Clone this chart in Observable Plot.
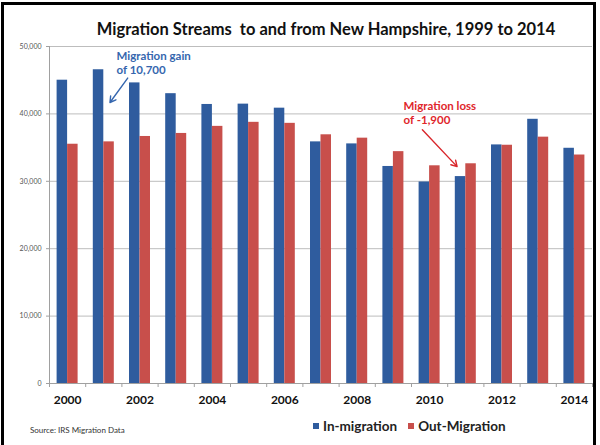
<!DOCTYPE html>
<html><head><meta charset="utf-8">
<script src="https://cdn.jsdelivr.net/npm/d3@7"></script>
<script src="https://cdn.jsdelivr.net/npm/@observablehq/plot@0.6"></script>
<style>
body{margin:0;background:#fff;}
#wrap{position:relative;width:600px;height:445px;overflow:hidden;font-family:Lato,"Open Sans",sans-serif;background:#fff;}
#frame{position:absolute;left:1px;top:2px;width:595px;height:470px;border:3px solid #000;box-sizing:border-box;pointer-events:none;}
#title{height:40px;box-sizing:border-box;padding-top:20px;line-height:18px;font-size:16.5px;font-weight:bold;color:#111;text-align:center;padding-left:52px;}
#chart svg{display:block;}
#footer{position:relative;height:35px;}
#legend{position:absolute;left:313px;top:8px;font-size:13.5px;font-weight:bold;color:#222;display:flex;align-items:center;line-height:16px;}
#legend .sw{display:inline-block;width:6px;height:6px;margin-right:4px;}
#legend .it{display:flex;align-items:center;margin-right:11px;}
#source{position:absolute;left:30px;top:14px;font-size:8px;color:#333;line-height:12px;}
</style></head>
<body>
<div id="wrap">
  <div id="title">Migration Streams&nbsp; to and from New Hampshire, 1999 to 2014</div>
  <div id="chart"></div>
  <div id="footer">
    <div id="source">Source: IRS Migration Data</div>
    <div id="legend"></div>
  </div>
  <div id="frame"></div>
</div>
<script>
const years = [2000,2001,2002,2003,2004,2005,2006,2007,2008,2009,2010,2011,2012,2013,2014];
const inMigration  = [45000,46550,44600,43000,41400,41450,40850,35850,35550,32200,29900,30700,35400,39200,34900];
const outMigration = [35500,35850,36650,37100,38150,38750,38600,36900,36400,34400,32300,32600,35350,36550,33900];
const seriesNames = ["In-migration","Out-Migration"];
const seriesColors = ["#2f5c9e","#c84f4b"];
const yTicks = [0,10000,20000,30000,40000,50000];
const xLabelYears = [2000,2002,2004,2006,2008,2010,2012,2014];
const noteGain = {text:"Migration gain\nof 10,700", x:2001.35, y:47670, color:"#3566ae"};
const noteLoss = {text:"Migration loss\nof -1,900", x:2009.28, y:40180, color:"#e0262b"};
const arrowGain = {x1:2001.66, y1:45320, x2:2001.17, y2:41690, color:"#3566ae"};
const arrowLoss = {x1:2009.80, y1:37640, x2:2010.76, y2:32180, color:"#d9262b"};

const inData = years.map((y,i)=>({year:y, value:inMigration[i]}));
const outData = years.map((y,i)=>({year:y, value:outMigration[i]}));
const boundaries = years.map(y=>y-0.5).concat([years[years.length-1]+0.5]);
const inset = 7.6;

const chart = Plot.plot({
  width: 600,
  height: 370,
  marginTop: 6,
  marginBottom: 27,
  marginLeft: 49,
  marginRight: 8,
  style: {fontFamily: "Lato, 'Open Sans', sans-serif", background: "#fff", overflow: "visible"},
  x: {domain: [years[0]-0.5, years[years.length-1]+0.5], axis: null},
  y: {domain: [0, 50000], axis: null},
  marks: [
    Plot.gridY(yTicks, {stroke: "#bdbdbd", strokeOpacity: 1, strokeWidth: 1}),
    Plot.rectY(inData, {x1: d => d.year - 0.5, x2: d => d.year, y: "value", fill: seriesColors[0], insetLeft: inset}),
    Plot.rectY(outData, {x1: d => d.year, x2: d => d.year + 0.5, y: "value", fill: seriesColors[1], insetRight: inset}),
    Plot.ruleY([0], {stroke: "#a0a0a0"}),
    Plot.ruleX([years[0]-0.5], {stroke: "#a0a0a0"}),
    Plot.axisY({ticks: yTicks, tickFormat: d3.format(","), tickSize: 3, tickPadding: 5, stroke: "#a0a0a0", fontSize: 7, fill: "#555"}),
    Plot.axisX({ticks: boundaries, tickFormat: () => "", tickSize: 4, stroke: "#a0a0a0"}),
    Plot.axisX({ticks: xLabelYears, tickFormat: d => String(d), tickSize: 0, tickPadding: 12, fontSize: 12, fontWeight: "bold", fill: "#111"}),
    Plot.text([noteGain], {x: "x", y: "y", text: "text", fill: "color", textAnchor: "start", fontSize: 11.5, fontWeight: "bold", lineHeight: 1.25}),
    Plot.text([noteLoss], {x: "x", y: "y", text: "text", fill: "color", textAnchor: "start", fontSize: 11.5, fontWeight: "bold", lineHeight: 1.25}),
    Plot.arrow([arrowGain, arrowLoss], {x1: "x1", y1: "y1", x2: "x2", y2: "y2", stroke: "color", strokeWidth: 1.4, headLength: 7})
  ]
});
document.getElementById("chart").appendChild(chart);

const legend = document.getElementById("legend");
seriesNames.forEach((n,i)=>{
  const it = document.createElement("span"); it.className = "it";
  const sw = document.createElement("span"); sw.className = "sw"; sw.style.background = seriesColors[i];
  it.appendChild(sw); it.appendChild(document.createTextNode(n));
  legend.appendChild(it);
});
</script>
</body></html>
